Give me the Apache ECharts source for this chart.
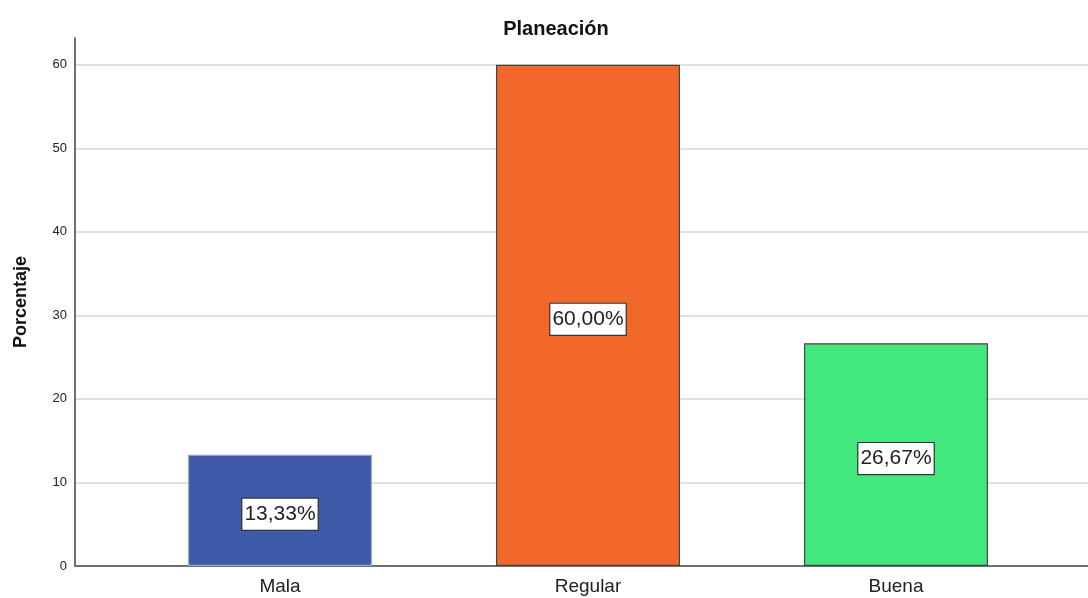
<!DOCTYPE html>
<html>
<head>
<meta charset="utf-8">
<script src="https://cdn.jsdelivr.net/npm/echarts@6/dist/echarts.min.js"></script>
<style>
  html, body { margin: 0; padding: 0; background: #fff; }
  #chart { width: 1088px; height: 598px; }
</style>
</head>
<body>
<div id="chart"></div>
<script>
// datos del gráfico
var categorias = ['Mala', 'Regular', 'Buena'];
var porcentajes = [13.33, 60.00, 26.67];
var colores = ['#3f5aa8', '#f2682b', '#42e87e'];
var bordes = ['#9aa6cc', '#444444', '#444444'];
var yTicks = [0, 10, 20, 30, 40, 50, 60];

var chart = echarts.init(document.getElementById('chart'));
var fuente = '"Liberation Sans", Arial, sans-serif';

var option = {
  backgroundColor: '#ffffff',
  animation: false,
  title: {
    text: 'Planeación',
    left: 551,
    top: 14,
    textAlign: 'center',
    textStyle: { fontFamily: fuente, fontSize: 20, fontWeight: 'bold', color: '#111' }
  },
  grid: [
    { left: 75, right: 0, top: 38, bottom: 32 },   // fondo: ejes y líneas
    { left: 126, right: 38, top: 38, bottom: 32 }  // barras
  ],
  xAxis: [
    {
      gridIndex: 0, type: 'value', min: 0, max: 1,
      axisLine: { show: true, onZero: false, lineStyle: { color: '#707070', width: 2 } },
      axisTick: { show: false }, axisLabel: { show: false }, splitLine: { show: false }
    },
    {
      gridIndex: 1, type: 'category', data: categorias,
      axisLine: { show: false }, axisTick: { show: false },
      axisLabel: { margin: 11, fontFamily: fuente, fontSize: 19, color: '#222' }
    }
  ],
  yAxis: [
    {
      gridIndex: 0, type: 'value', min: 0, max: 63.2, interval: 10,
      name: 'Porcentaje', nameLocation: 'middle', nameGap: 45,
      nameTextStyle: { fontFamily: fuente, fontSize: 18, fontWeight: 'bold', color: '#111' },
      axisLine: { show: true, lineStyle: { color: '#707070', width: 2 } },
      axisTick: { show: false },
      axisLabel: {
        margin: 8, fontFamily: fuente, fontSize: 13, color: '#222', showMaxLabel: false,
        padding: [3, 0, 0, 0],
        formatter: function (v) { return yTicks.indexOf(v) >= 0 ? String(v) : ''; }
      },
      splitLine: { show: true, showMaxLine: false, lineStyle: { color: '#d6d6d6', width: 1.5 } }
    },
    {
      gridIndex: 1, type: 'value', min: 0, max: 63.2, show: false
    }
  ],
  series: [
    {
      type: 'bar',
      xAxisIndex: 1,
      yAxisIndex: 1,
      barWidth: 184,
      data: porcentajes.map(function (v, i) {
        return {
          value: v,
          itemStyle: { color: colores[i], borderColor: bordes[i], borderWidth: 1.2 }
        };
      }),
      label: {
        show: true,
        position: 'inside',
        offset: [0, 4],
        fontFamily: fuente,
        fontSize: 21,
        color: '#222',
        backgroundColor: '#ffffff',
        borderColor: '#333333',
        borderWidth: 1.2,
        padding: [6, 2, 4, 2],
        formatter: function (p) { return p.value.toFixed(2).replace('.', ',') + '%'; }
      }
    }
  ]
};
chart.setOption(option);
</script>
</body>
</html>
